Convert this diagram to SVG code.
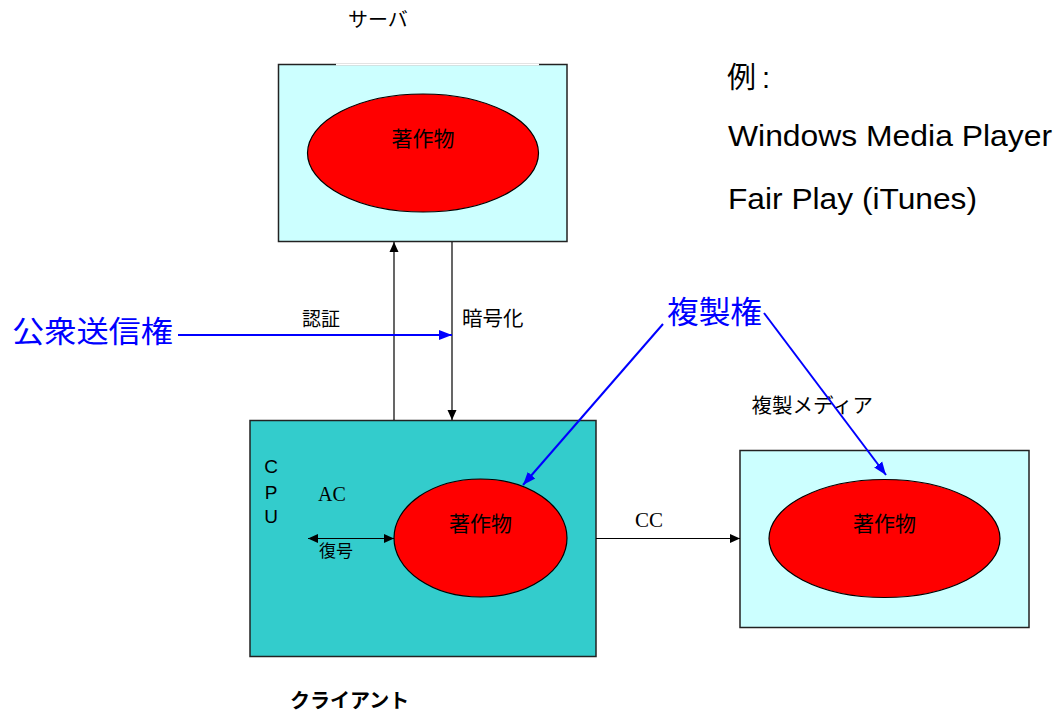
<svg xmlns="http://www.w3.org/2000/svg" width="1057" height="714" viewBox="0 0 1057 714">
<style>
.box{stroke:#222;stroke-width:1.5}
.lt{fill:#CCFFFF}
.dk{fill:#33CCCC}
.el{fill:#FF0000;stroke:#000;stroke-width:1.2}
.jp{font-family:"Liberation Sans","Noto Sans CJK JP",sans-serif;fill:#000}
.se{font-family:"Liberation Serif",serif;fill:#000}
.bl{font-family:"Liberation Sans","Noto Sans CJK JP",sans-serif;fill:#0000FF}
.k{stroke:#000;stroke-width:1.2;fill:none}
.b{stroke:#0000FF;stroke-width:2;fill:none}
</style>
<defs>
<marker id="ak" markerUnits="userSpaceOnUse" markerWidth="10" markerHeight="10" refX="10" refY="5" orient="auto-start-reverse"><path d="M0,0.5 L10,5 L0,9.5 z" fill="#000"/></marker>
<marker id="ab" markerUnits="userSpaceOnUse" markerWidth="14" markerHeight="12" refX="13" refY="6" orient="auto"><path d="M0,1 L13,6 L0,11 z" fill="#0000FF"/></marker>
</defs>
<rect width="1057" height="714" fill="#fff"/>

<g id="server">
<rect class="box lt" x="278.5" y="64.5" width="288.5" height="177"/>
<line x1="336" y1="64.5" x2="539" y2="64.5" stroke="#fff" stroke-width="2"/>
<ellipse class="el" cx="423" cy="153" rx="115.5" ry="59"/>
<text class="jp" x="423" y="145.5" font-size="21" text-anchor="middle">著作物</text>
<text class="jp" x="348" y="27" font-size="20">サーバ</text>
</g>

<g id="client">
<rect class="box dk" x="250" y="420.5" width="346" height="236"/>
<ellipse class="el" cx="480.5" cy="538" rx="86.5" ry="59"/>
<text class="jp" x="480.5" y="530.5" font-size="21" text-anchor="middle">著作物</text>
<text class="jp" x="271" y="472.5" font-size="19" text-anchor="middle">C</text>
<text class="jp" x="271" y="498.5" font-size="19" text-anchor="middle">P</text>
<text class="jp" x="271" y="522.5" font-size="19" text-anchor="middle">U</text>
<text class="se" x="318" y="500.5" font-size="20">AC</text>
<text class="jp" x="319" y="556.5" font-size="17">復号</text>
<text class="jp" x="290" y="708" font-size="20" font-weight="bold">クライアント</text>
</g>

<g id="media">
<rect class="box lt" x="740" y="450.5" width="289" height="177"/>
<ellipse class="el" cx="884.5" cy="538.5" rx="115.5" ry="59"/>
<text class="jp" x="884.5" y="530.5" font-size="21" text-anchor="middle">著作物</text>
<text class="jp" x="751.5" y="413" font-size="20.5">複製メディア</text>
</g>

<g id="example">
<text class="jp" x="727" y="88" font-size="29">例<tspan dx="6">:</tspan></text>
<text class="jp" x="728" y="146" font-size="29" textLength="324" lengthAdjust="spacingAndGlyphs">Windows Media Player</text>
<text class="jp" x="728" y="209" font-size="29" textLength="249" lengthAdjust="spacingAndGlyphs">Fair Play (iTunes)</text>
</g>

<g id="rights">
<text class="bl" x="12" y="341.5" font-size="30" textLength="161" lengthAdjust="spacingAndGlyphs">公衆送信権</text>
<text class="bl" x="667" y="322.5" font-size="31" textLength="95" lengthAdjust="spacingAndGlyphs">複製権</text>
</g>

<g id="connectors">
<line class="k" x1="394" y1="420" x2="394" y2="242" marker-end="url(#ak)"/>
<line class="k" x1="452" y1="242" x2="452" y2="420" marker-end="url(#ak)"/>
<text class="jp" x="302" y="325.5" font-size="19">認証</text>
<text class="jp" x="462" y="326" font-size="20.5">暗号化</text>
<line class="k" x1="308" y1="538.5" x2="394" y2="538.5" marker-start="url(#ak)" marker-end="url(#ak)"/>
<line class="k" x1="596" y1="538.5" x2="740" y2="538.5" marker-end="url(#ak)"/>
<text class="se" x="635" y="527" font-size="21">CC</text>
<line class="b" x1="178" y1="335" x2="452" y2="335" marker-end="url(#ab)"/>
<line class="b" x1="663" y1="324" x2="523" y2="485" marker-end="url(#ab)"/>
<line class="b" x1="764" y1="313" x2="886" y2="475" marker-end="url(#ab)"/>
</g>
</svg>
